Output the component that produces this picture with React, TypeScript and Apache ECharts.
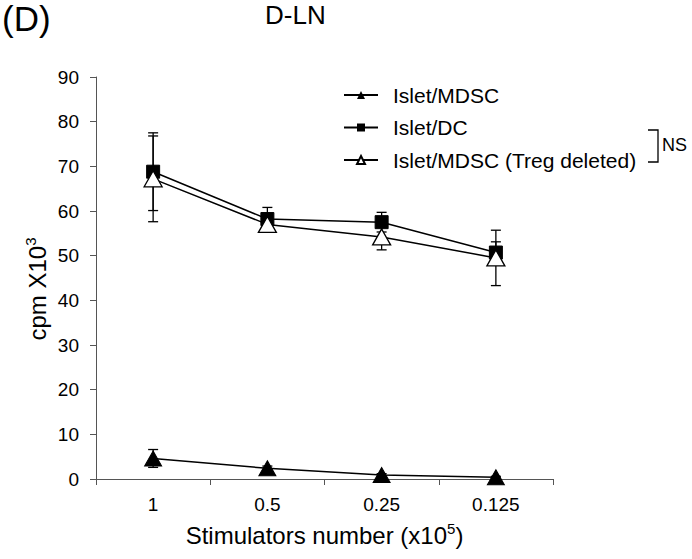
import React, { useEffect, useRef } from "react";
import * as echarts from "echarts";

const categories = ["1", "0.5", "0.25", "0.125"];
const mdscValues = [4.6, 2.4, 0.9, 0.4];
const mdscErr = [2.0, 0.5, 0.3, 0.2];
const dcValues = [68.8, 58.2, 57.5, 50.7];
const dcErr = [8.7, 2.6, 2.2, 2.4];
const tregValues = [67.2, 57.0, 54.2, 49.5];
const tregErr = [9.6, 1.5, 2.9, 6.2];
const yTicks = { min: 0, max: 90, interval: 10 };

const FONT = "Liberation Sans, Arial, sans-serif";

function errData(vals: number[], errs: number[]) {
  return vals.map((v, i) => [i, v - errs[i], v + errs[i]]);
}

function errSeries(name: string, vals: number[], errs: number[]) {
  return {
    type: "custom",
    name: name + "-err",
    z: 1,
    silent: true,
    data: errData(vals, errs),
    renderItem: (params: any, api: any) => {
      const x = api.value(0);
      const lo = api.coord([x, api.value(1)]);
      const hi = api.coord([x, api.value(2)]);
      const cap = 5;
      const style = { stroke: "#000", lineWidth: 1.3 };
      return {
        type: "group",
        children: [
          { type: "line", shape: { x1: lo[0], y1: lo[1], x2: hi[0], y2: hi[1] }, style },
          { type: "line", shape: { x1: lo[0] - cap, y1: lo[1], x2: lo[0] + cap, y2: lo[1] }, style },
          { type: "line", shape: { x1: hi[0] - cap, y1: hi[1], x2: hi[0] + cap, y2: hi[1] }, style },
        ],
      };
    },
  };
}

export default function App() {
  const ref = useRef<HTMLDivElement>(null);
  useEffect(() => {
    const chart = echarts.init(ref.current!, null, { renderer: "svg" });
    chart.setOption({
      animation: false,
      backgroundColor: "#fff",
      textStyle: { fontFamily: FONT, color: "#000" },
      title: [
        { text: "(D)", left: 2, top: 1, padding: 0, textStyle: { fontSize: 35, fontWeight: "normal", fontFamily: FONT, color: "#000" } },
        { text: "D-LN", left: 265, top: 2, padding: 0, textStyle: { fontSize: 26, fontWeight: "normal", fontFamily: FONT, color: "#000" } },
      ],
      legend: {
        orient: "vertical",
        left: 343,
        top: 84,
        padding: 0,
        itemWidth: 34,
        itemHeight: 10,
        itemGap: 10.5,
        data: ["Islet/MDSC", "Islet/DC", "Islet/MDSC (Treg deleted)"],
        textStyle: { fontSize: 21, fontFamily: FONT, color: "#000", lineHeight: 22, padding: [0, 0, 0, 10] },
      },
      grid: { left: 96, right: 139, top: 77, bottom: 80, containLabel: false },
      xAxis: {
        type: "category",
        data: categories,
        boundaryGap: true,
        axisLine: { lineStyle: { color: "#555", width: 1 } },
        axisTick: { show: true, length: 6, lineStyle: { color: "#555" } },
        axisLabel: { fontSize: 19, color: "#000", fontFamily: FONT, margin: 16 },
        name: "{a|Stimulators number (x10}{s|5}{a|)}",
        nameLocation: "middle",
        nameGap: 42,
        nameTextStyle: {
          rich: {
            a: { fontSize: 24, fontFamily: FONT, color: "#000", lineHeight: 28 },
            s: { fontSize: 15, fontFamily: FONT, color: "#000", verticalAlign: "top", lineHeight: 28 },
          },
        },
      },
      yAxis: {
        type: "value",
        min: yTicks.min,
        max: yTicks.max,
        interval: yTicks.interval,
        splitLine: { show: false },
        axisLine: { show: true, lineStyle: { color: "#555", width: 1 } },
        axisTick: { show: true, length: 6, lineStyle: { color: "#555" } },
        axisLabel: { fontSize: 19, color: "#000", fontFamily: FONT, margin: 17 },
      },
      graphic: [
        {
          type: "text",
          x: 37,
          y: 289,
          rotation: Math.PI / 2,
          style: {
            text: "{a|cpm X10}{s|3}",
            align: "center",
            verticalAlign: "middle",
            rich: {
              a: { fontSize: 24, fontFamily: FONT, fill: "#000", lineHeight: 28 },
              s: { fontSize: 15, fontFamily: FONT, fill: "#000", verticalAlign: "top", lineHeight: 28 },
            },
          },
        },
        {
          type: "polyline",
          shape: { points: [[648, 130], [658, 130], [658, 162], [648, 162]] },
          style: { stroke: "#000", lineWidth: 1.3, fill: null },
        },
        {
          type: "text",
          x: 662,
          y: 145,
          style: { text: "NS", fontSize: 18, fontFamily: FONT, fill: "#000", verticalAlign: "middle" },
        },
      ],
      series: [
        errSeries("mdsc", mdscValues, mdscErr),
        errSeries("dc", dcValues, dcErr),
        errSeries("treg", tregValues, tregErr),
        {
          type: "line",
          name: "Islet/MDSC",
          data: mdscValues,
          z: 3,
          symbol: "triangle",
          symbolSize: [17, 15],
          lineStyle: { color: "#000", width: 1.5 },
          itemStyle: { color: "#000", borderColor: "#000" },
        },
        {
          type: "line",
          name: "Islet/DC",
          data: dcValues,
          z: 3,
          symbol: "rect",
          symbolSize: 13,
          lineStyle: { color: "#000", width: 1.5 },
          itemStyle: { color: "#000", borderColor: "#000" },
        },
        {
          type: "line",
          name: "Islet/MDSC (Treg deleted)",
          data: tregValues,
          z: 4,
          symbol: "triangle",
          symbolSize: [18, 16],
          showAllSymbol: true,
          lineStyle: { color: "#000", width: 1.5 },
          itemStyle: { color: "#fff", borderColor: "#000", borderWidth: 1.3 },
        },
      ],
    });
    return () => chart.dispose();
  }, []);
  return <div ref={ref} style={{ position: "fixed", left: 0, top: 0, width: 692, height: 559 }} />;
}
